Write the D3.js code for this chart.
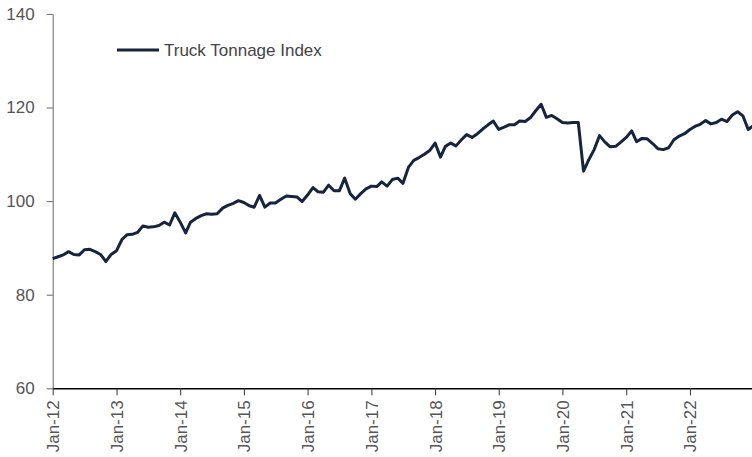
<!DOCTYPE html>
<html>
<head>
<meta charset="utf-8">
<script src="https://cdn.jsdelivr.net/npm/d3@7"></script>
<style>
  body { margin: 0; background: #fff; }
  svg { display: block; font-family: "Liberation Sans", Arial, sans-serif; }
  .axis text { font-size: 17px; fill: #555; }
</style>
</head>
<body>
<div id="chart"></div>
<script>
// monthly index, Jan-12 .. Jan-23
var firstMonth = new Date(2012, 0, 1);
var tonnage = [
  87.7, 88.1, 88.5, 89.2, 88.6, 88.5, 89.6, 89.7, 89.2, 88.6, 87.1, 88.6,   // 2012
  89.4, 91.8, 92.8, 92.9, 93.3, 94.7, 94.4, 94.5, 94.8, 95.5, 94.9, 97.5,   // 2013
  95.5, 93.2, 95.5, 96.3, 96.9, 97.3, 97.2, 97.3, 98.5, 99.1, 99.5, 100.1,  // 2014
  99.7, 99.0, 98.7, 101.2, 98.7, 99.6, 99.6, 100.4, 101.1, 101.0, 100.9, 99.9, // 2015
  101.3, 102.9, 102.0, 101.9, 103.4, 102.2, 102.2, 104.9, 101.6, 100.4, 101.6, 102.6, // 2016
  103.2, 103.1, 104.1, 103.2, 104.6, 104.9, 103.8, 107.2, 108.7, 109.3, 110.0, 110.8, // 2017
  112.4, 109.4, 111.7, 112.4, 111.8, 113.1, 114.2, 113.6, 114.4, 115.4, 116.3, 117.1, // 2018
  115.3, 115.8, 116.3, 116.3, 117.1, 117.0, 117.8, 119.3, 120.7, 117.9, 118.3, 117.6, // 2019
  116.8, 116.7, 116.8, 116.8, 106.4, 108.9, 111.0, 114.0, 112.6, 111.6, 111.7, 112.6, // 2020
  113.6, 115.0, 112.7, 113.4, 113.3, 112.3, 111.2, 111.0, 111.4, 113.1, 113.9, 114.4, // 2021
  115.3, 116.0, 116.4, 117.2, 116.5, 116.8, 117.5, 117.0, 118.4, 119.1, 118.2, 115.3, // 2022
  116.2  // Jan-23
];
var yTicks = [60, 80, 100, 120, 140];
var xTickYears = [2012, 2013, 2014, 2015, 2016, 2017, 2018, 2019, 2020, 2021, 2022];
var seriesName = "Truck Tonnage Index";

var width = 752, height = 457;
var lineColor = "#17243d";

var data = tonnage.map(function(v, i) {
  return { date: d3.timeMonth.offset(firstMonth, i), value: v };
});

var x = d3.scaleTime()
  .domain([firstMonth, new Date(2023, 0, 1)])
  .range([52.7, 753.6]);

var y = d3.scaleLinear()
  .domain([60, 140])
  .range([388.3, 13.9]);

var svg = d3.select("#chart").append("svg")
  .attr("width", width)
  .attr("height", height);

// y axis
var gy = svg.append("g")
  .attr("class", "axis y")
  .attr("transform", "translate(" + x.range()[0] + ",0)")
  .call(d3.axisLeft(y).tickValues(yTicks).tickSize(6).tickSizeOuter(0).tickPadding(12));
gy.select(".domain").attr("stroke", "#666");
gy.selectAll(".tick line").attr("stroke", "#666");

// x axis
var gx = svg.append("g")
  .attr("class", "axis x")
  .attr("transform", "translate(0," + y(60) + ")")
  .call(d3.axisBottom(x)
    .tickValues(xTickYears.map(function(yr) { return new Date(yr, 0, 1); }))
    .tickFormat(d3.timeFormat("%b-%y"))
    .tickSize(7)
    .tickSizeOuter(0));
gx.select(".domain").attr("stroke", "#000").attr("stroke-width", 1.5);
gx.selectAll(".tick line").attr("stroke", "#333");
gx.selectAll(".tick text")
  .attr("transform", "rotate(-90)")
  .attr("text-anchor", "end")
  .attr("x", -12)
  .attr("y", 0)
  .attr("dy", "0.35em");

// series
var line = d3.line()
  .x(function(d) { return x(d.date); })
  .y(function(d) { return y(d.value); });

svg.append("path")
  .datum(data)
  .attr("fill", "none")
  .attr("stroke", lineColor)
  .attr("stroke-width", 3)
  .attr("stroke-linejoin", "round")
  .attr("d", line);

// legend
var legend = svg.append("g").attr("transform", "translate(117,50)");
legend.append("line")
  .attr("x1", 0).attr("x2", 42)
  .attr("stroke", lineColor)
  .attr("stroke-width", 3);
legend.append("text")
  .attr("x", 47)
  .attr("dy", "0.35em")
  .attr("font-size", 17)
  .attr("fill", "#444")
  .text(seriesName);
</script>
</body>
</html>
